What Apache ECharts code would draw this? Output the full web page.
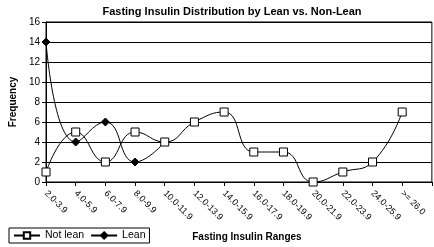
<!DOCTYPE html>
<html><head><meta charset="utf-8">
<script src="https://cdn.jsdelivr.net/npm/echarts@6/dist/echarts.min.js"></script>
<style>html,body{margin:0;padding:0;background:#fff}#c{width:434px;height:247px}</style>
</head><body><div id="c"></div>
<script>
const categories = ["2.0-3.9","4.0-5.9","6.0-7.9","8.0-9.9","10.0-11.9","12.0-13.9","14.0-15.9","16.0-17.9","18.0-19.9","20.0-21.9","22.0-23.9","24.0-25.9",">= 26.0",""];
const notLean = [1,5,2,5,4,6,7,3,3,0,1,2,7];
const lean = [14,4,6,2,4];
const yTicks = [0,2,4,6,8,10,12,14,16];

const chart = echarts.init(document.getElementById('c'), null, {renderer:'canvas'});
const font = 'Liberation Sans, Arial, sans-serif';
chart.setOption({
  animation:false,
  title:{text:'Fasting Insulin Distribution by Lean vs. Non-Lean',left:227,top:1,textAlign:'center',
    textStyle:{fontFamily:font,fontSize:11,fontWeight:'bold',color:'#000'}},
  grid:{left:35,right:1,top:22,bottom:64,containLabel:false,show:true,borderColor:'#000',borderWidth:1},
  legend:{left:9,top:228,itemGap:6,itemWidth:26,itemHeight:8,padding:[2,4],borderColor:'#000',borderWidth:1,
    textStyle:{fontFamily:font,fontSize:10.5,color:'#000'},
    data:['Not lean','Lean']},
  xAxis:{type:'category',data:categories,boundaryGap:false,
    axisLine:{lineStyle:{color:'#000'}},axisTick:{show:true,length:4,lineStyle:{color:'#000'}},
    axisLabel:{rotate:-45,interval:0,fontFamily:font,fontSize:9,color:'#000',margin:10},
    name:'Fasting Insulin Ranges',nameLocation:'middle',nameGap:50,
    nameTextStyle:{fontFamily:font,fontSize:10,fontWeight:'bold',color:'#000',padding:[0,0,0,16]}},
  yAxis:{type:'value',min:0,max:16,interval:2,
    axisLine:{show:true,lineStyle:{color:'#000'}},axisTick:{show:true,length:4,lineStyle:{color:'#000'}},
    splitLine:{lineStyle:{color:'#000',width:1}},
    axisLabel:{fontFamily:font,fontSize:10,color:'#000',margin:6},
    name:'Frequency',nameLocation:'middle',nameGap:24,
    nameTextStyle:{fontFamily:font,fontSize:10,fontWeight:'bold',color:'#000'}},
  series:[
    {name:'Not lean',type:'line',data:notLean,smooth:0.5,symbol:'rect',symbolSize:8,
      lineStyle:{color:'#000',width:1},itemStyle:{color:'#fff',borderColor:'#000',borderWidth:1},z:3},
    {name:'Lean',type:'line',data:lean,smooth:0.5,symbol:'diamond',symbolSize:8,
      lineStyle:{color:'#000',width:1},itemStyle:{color:'#000',borderColor:'#000',borderWidth:1},z:2}
  ]
});
</script></body></html>
